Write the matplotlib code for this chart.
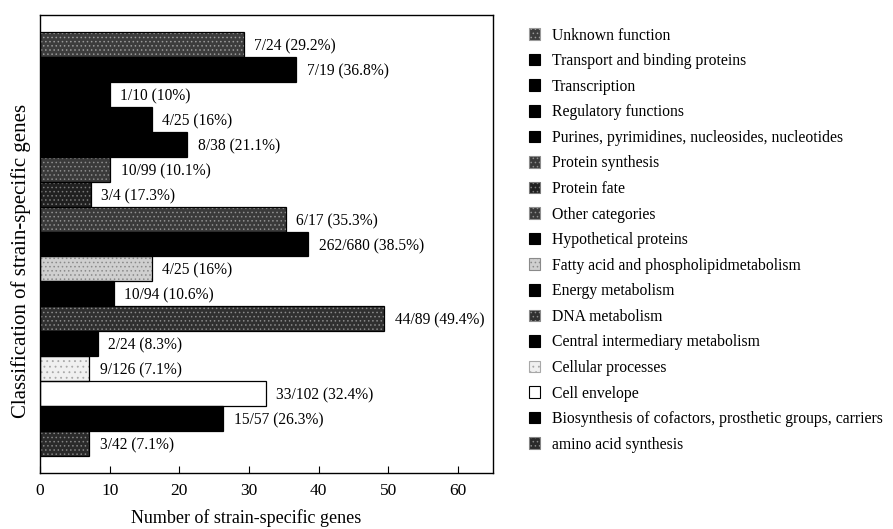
import matplotlib
matplotlib.use('Agg')
import matplotlib.pyplot as plt
from matplotlib.patches import Patch

plt.rcParams['font.family'] = ['Liberation Serif', 'DejaVu Serif']
plt.rcParams['hatch.linewidth'] = 0.6

# categories, top to bottom (same order as the legend)
CATEGORIES = [
    'Unknown function',
    'Transport and binding proteins',
    'Transcription',
    'Regulatory functions',
    'Purines, pyrimidines, nucleosides, nucleotides',
    'Protein synthesis',
    'Protein fate',
    'Other categories',
    'Hypothetical proteins',
    'Fatty acid and phospholipidmetabolism',
    'Energy metabolism',
    'DNA metabolism',
    'Central intermediary metabolism',
    'Cellular processes',
    'Cell envelope',
    'Biosynthesis of cofactors, prosthetic groups, carriers',
    'amino acid synthesis',
]
# bar lengths as drawn in the figure
VALUES = [29.2, 36.8, 10, 16, 21.1, 10.1, 7.3, 35.3, 38.5, 16, 10.6,
          49.4, 8.3, 7.1, 32.4, 26.3, 7.1]
COUNTS = ['7/24', '7/19', '1/10', '4/25', '8/38', '10/99', '3/4', '6/17',
          '262/680', '4/25', '10/94', '44/89', '2/24', '9/126', '33/102',
          '15/57', '3/42']
PCTS = ['29.2%', '36.8%', '10%', '16%', '21.1%', '10.1%', '17.3%', '35.3%',
        '38.5%', '16%', '10.6%', '49.4%', '8.3%', '7.1%', '32.4%',
        '26.3%', '7.1%']

# (face, hatch, hatch colour) per category - greyscale stipple look
STYLE = {
    'Unknown function':  ('#3c3c3c', '....', '#9a9a9a'),
    'Transport and binding proteins': ('black', None, 'black'),
    'Transcription': ('black', None, 'black'),
    'Regulatory functions': ('black', None, 'black'),
    'Purines, pyrimidines, nucleosides, nucleotides': ('black', None, 'black'),
    'Protein synthesis': ('#3a3a3a', '....', '#8c8c8c'),
    'Protein fate': ('#202020', '....', '#7a7a7a'),
    'Other categories': ('#3a3a3a', '....', '#909090'),
    'Hypothetical proteins': ('black', None, 'black'),
    'Fatty acid and phospholipidmetabolism': ('#cfcfcf', '....', '#8a8a8a'),
    'Energy metabolism': ('black', None, 'black'),
    'DNA metabolism': ('#303030', '....', '#8a8a8a'),
    'Central intermediary metabolism': ('black', None, 'black'),
    'Cellular processes': ('#f0f0f0', '...', '#a8a8a8'),
    'Cell envelope': ('white', None, 'black'),
    'Biosynthesis of cofactors, prosthetic groups, carriers': ('black', None, 'black'),
    'amino acid synthesis': ('#2a2a2a', '....', '#858585'),
}

fig = plt.figure(figsize=(8.93, 5.29), dpi=100)
ax = fig.add_axes([0.0448, 0.106, 0.5073, 0.8656])

ypos = list(range(len(CATEGORIES)))
faces = [STYLE[c][0] for c in CATEGORIES]
hatches = [STYLE[c][1] for c in CATEGORIES]
hcols = [STYLE[c][2] for c in CATEGORIES]

ax.barh(ypos, VALUES, height=1.0, color=faces, hatch=hatches,
        edgecolor=hcols, linewidth=0)
# crisp outline on top of the stipple
ax.barh(ypos, VALUES, height=1.0, fill=False, edgecolor='black',
        linewidth=0.9)

for y, v, c, p in zip(ypos, VALUES, COUNTS, PCTS):
    ax.text(v + 1.5, y + 0.08, f'{c} ({p})', va='center', ha='left',
            fontsize=11.2)

ax.set_ylim(16.5 + 0.7, -0.5 - 0.7)
ax.set_xlim(0, 65)
ax.set_xticks(range(0, 61, 10))
ax.set_yticks([])
ax.tick_params(axis='x', direction='in', length=5, labelsize=12.5, pad=7)
for s in ax.spines.values():
    s.set_linewidth(1.0)
ax.set_xlabel('Number of strain-specific genes', fontsize=13)
ax.xaxis.set_label_coords(0.456, -0.078)
ax.set_ylabel('Classification of strain-specific genes', fontsize=15)
ax.yaxis.set_label_coords(-0.02, 0.462)

handles = [Patch(facecolor=STYLE[c][0], hatch=STYLE[c][1],
                 edgecolor=STYLE[c][2] if STYLE[c][1] else 'black',
                 linewidth=0.8, label=c) for c in CATEGORIES]
fig.legend(handles=handles, loc='upper left', bbox_to_anchor=(0.592, 0.948),
           frameon=False, fontsize=11.3, handlelength=0.75, handleheight=0.75,
           handletextpad=0.75, labelspacing=0.61, borderpad=0,
           borderaxespad=0)

fig.savefig('out.png', dpi=100)
